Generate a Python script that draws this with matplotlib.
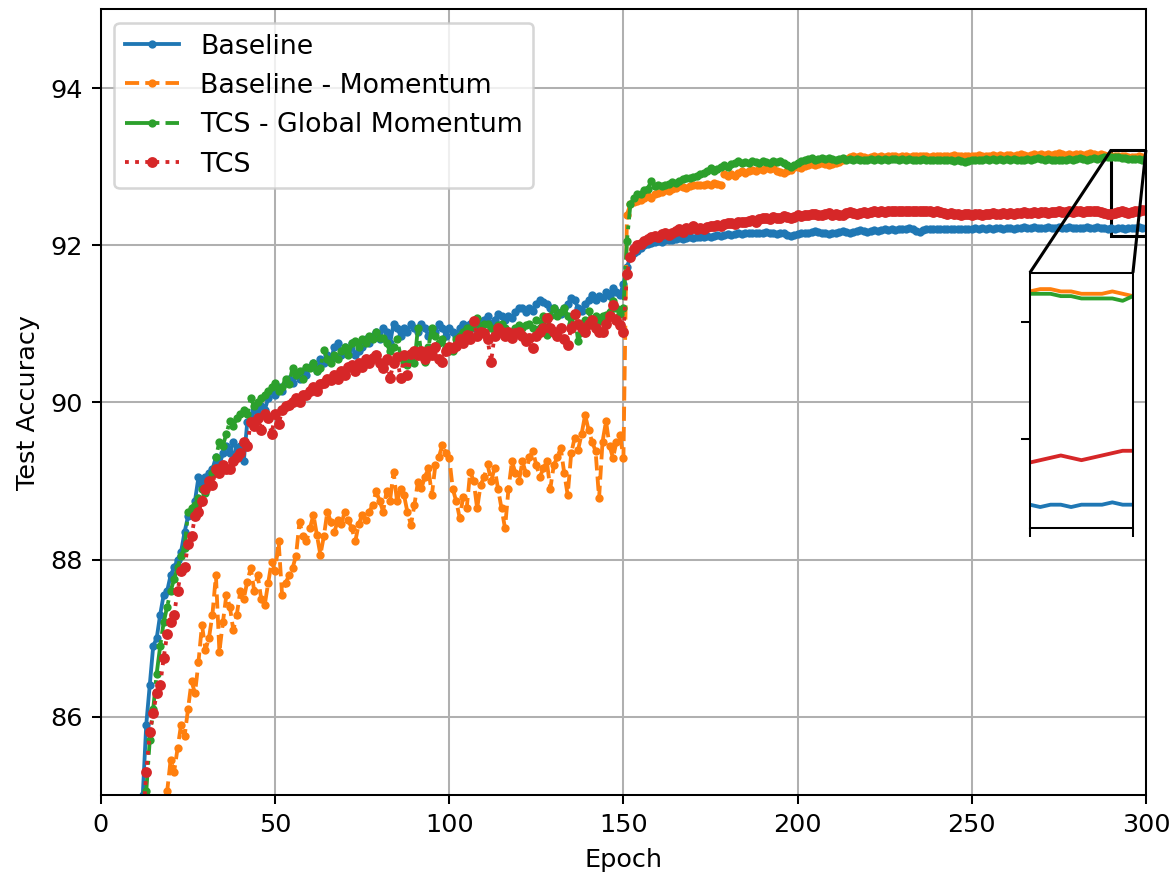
import numpy as np
import matplotlib
matplotlib.use("Agg")
import matplotlib.pyplot as plt
from mpl_toolkits.axes_grid1.inset_locator import mark_inset

# test accuracy per epoch (epochs 1..300)
baseline = [
    40.2, 55.6, 63.1, 68.4, 72.0, 75.3, 77.5, 79.4, 81.0, 82.4,
    83.8, 85.0, 85.9, 86.4, 86.9, 87.0, 87.3, 87.55, 87.6, 87.8,
    87.9, 88.0, 88.1, 88.35, 88.55, 88.6, 88.75, 89.05, 88.95, 89.05,
    89.1, 89.15, 89.3, 89.2, 89.35, 89.45, 89.35, 89.5, 89.4, 89.45,
    89.25, 89.75, 89.8, 89.9, 89.85, 89.95, 89.9, 90.05, 90.15, 90.1,
    90.2, 90.15, 90.25, 90.3, 90.25, 90.35, 90.3, 90.4, 90.35, 90.45,
    90.5, 90.4, 90.55, 90.5, 90.6, 90.55, 90.7, 90.75, 90.6, 90.7,
    90.65, 90.75, 90.6, 90.65, 90.7, 90.8, 90.75, 90.85, 90.9, 90.8,
    90.95, 90.9, 90.75, 91.0, 90.95, 90.85, 90.95, 90.9, 91.0, 90.95,
    90.9, 91.0, 90.95, 90.85, 90.9, 90.9, 91.0, 90.95, 90.85, 90.95,
    90.9, 90.85, 90.95, 91.0, 90.9, 91.0, 90.95, 91.05, 91.0, 91.05,
    91.1, 91.0, 91.05, 91.12, 91.1, 91.05, 91.1, 91.07, 91.15, 91.2,
    91.2, 91.15, 91.2, 91.16, 91.25, 91.3, 91.28, 91.25, 91.2, 91.2,
    91.15, 91.12, 91.2, 91.25, 91.33, 91.3, 91.2, 91.16, 91.25, 91.3,
    91.37, 91.3, 91.35, 91.33, 91.4, 91.35, 91.46, 91.4, 91.37, 91.5,
    91.72, 91.85, 91.9, 91.92, 91.97, 92.0, 92.02, 92.03, 92.04, 92.05,
    92.04, 92.06, 92.07, 92.06, 92.08, 92.09, 92.08, 92.09, 92.1, 92.09,
    92.1, 92.11, 92.1, 92.12, 92.11, 92.12, 92.13, 92.12, 92.13, 92.14,
    92.13, 92.14, 92.15, 92.14, 92.15, 92.16, 92.15, 92.16, 92.15, 92.16,
    92.17, 92.16, 92.15, 92.14, 92.16, 92.15, 92.13, 92.12, 92.13, 92.14,
    92.15, 92.16, 92.15, 92.17, 92.18, 92.17, 92.16, 92.15, 92.14, 92.15,
    92.16, 92.17, 92.18, 92.17, 92.16, 92.17, 92.18, 92.19, 92.18, 92.17,
    92.18, 92.19, 92.18, 92.19, 92.2, 92.19, 92.2, 92.19, 92.2, 92.21,
    92.2, 92.22, 92.21, 92.18, 92.17, 92.19, 92.2, 92.21, 92.2, 92.21,
    92.2, 92.21, 92.2, 92.21, 92.2, 92.21, 92.2, 92.21, 92.2, 92.21,
    92.22, 92.21, 92.22, 92.21, 92.22, 92.21, 92.22, 92.22, 92.21, 92.22,
    92.22, 92.21, 92.22, 92.22, 92.23, 92.22, 92.22, 92.23, 92.22, 92.22,
    92.22, 92.23, 92.22, 92.22, 92.23, 92.22, 92.22, 92.23, 92.22, 92.22,
    92.22, 92.22, 92.23, 92.22, 92.22, 92.23, 92.22, 92.22, 92.21, 92.22,
    92.21, 92.22, 92.22, 92.21, 92.22, 92.22, 92.22, 92.23, 92.22, 92.22,
]

baseline_momentum = [
    30.1, 42.5, 51.3, 57.8, 62.9, 67.0, 70.2, 72.9, 75.3, 77.2,
    78.8, 80.1, 81.3, 82.2, 83.0, 83.7, 84.3, 84.8, 85.05, 85.45,
    85.3, 85.6, 85.9, 85.75, 86.1, 86.45, 86.3, 86.7, 87.17, 86.85,
    87.0, 87.3, 87.8, 86.83, 87.2, 87.55, 87.4, 87.1, 87.3, 87.6,
    87.5, 87.72, 87.89, 87.6, 87.8, 87.5, 87.42, 87.7, 87.97, 87.85,
    88.23, 87.55, 87.7, 87.8, 87.89, 88.05, 88.48, 88.3, 88.23, 88.4,
    88.57, 88.31, 88.06, 88.3, 88.61, 88.48, 88.35, 88.5, 88.45, 88.61,
    88.5, 88.4, 88.23, 88.45, 88.57, 88.5, 88.6, 88.7, 88.87, 88.75,
    88.61, 88.87, 88.75, 89.12, 88.74, 88.9, 88.82, 88.6, 88.44, 88.7,
    88.99, 88.91, 89.05, 89.16, 88.82, 89.2, 89.3, 89.46, 89.35, 89.29,
    88.9, 88.74, 88.53, 88.8, 88.65, 89.12, 89.0, 88.65, 88.95, 89.05,
    89.21, 89.0, 89.16, 88.9, 88.65, 88.4, 88.9, 89.25, 89.1, 89.0,
    89.25, 89.1, 89.3, 89.38, 89.2, 89.05, 89.16, 89.25, 88.9, 89.2,
    89.3, 89.42, 89.1, 88.82, 89.35, 89.55, 89.4, 89.6, 89.84, 89.65,
    89.5, 89.38, 88.78, 89.5, 89.76, 89.45, 89.29, 89.5, 89.59, 89.29,
    92.39, 92.52, 92.55, 92.56, 92.58, 92.6, 92.62, 92.6, 92.65, 92.66,
    92.68, 92.7, 92.69, 92.72, 92.73, 92.75, 92.74, 92.73, 92.75, 92.76,
    92.77, 92.76, 92.77, 92.78, 92.77, 92.79, 92.78, 92.77, 92.9, 92.88,
    92.9, 92.88, 92.92, 92.94, 92.92, 92.94, 92.96, 92.95, 92.97, 92.96,
    92.98, 92.97, 92.98, 92.95, 92.93, 92.92, 92.94, 92.96, 92.99, 93.0,
    92.98, 93.01, 93.02, 93.03, 93.02, 93.03, 93.04, 93.03, 93.02, 93.03,
    93.04, 93.06, 93.08, 93.1, 93.12, 93.13, 93.12, 93.13, 93.12, 93.11,
    93.12, 93.13, 93.12, 93.13, 93.12, 93.13, 93.14, 93.13, 93.12, 93.13,
    93.13, 93.12, 93.13, 93.14, 93.13, 93.14, 93.13, 93.12, 93.13, 93.14,
    93.13, 93.14, 93.13, 93.14, 93.15, 93.14, 93.13, 93.14, 93.14, 93.13,
    93.14, 93.15, 93.14, 93.13, 93.14, 93.15, 93.14, 93.15, 93.14, 93.15,
    93.15, 93.14, 93.15, 93.16, 93.15, 93.14, 93.15, 93.16, 93.15, 93.16,
    93.15, 93.16, 93.15, 93.16, 93.17, 93.16, 93.15, 93.16, 93.15, 93.16,
    93.16, 93.15, 93.16, 93.17, 93.16, 93.15, 93.16, 93.15, 93.14, 93.13,
    93.14, 93.14, 93.13, 93.13, 93.12, 93.12, 93.12, 93.13, 93.12, 93.11,
]

tcs_global_momentum = [
    39.0, 54.1, 62.0, 67.5, 71.4, 74.6, 77.0, 79.2, 80.9, 82.3,
    83.5, 84.4, 85.05, 85.7, 86.1, 86.55, 86.9, 87.2, 87.4, 87.6,
    87.75, 87.9, 88.05, 88.15, 88.6, 88.65, 88.7, 88.78, 88.9, 88.85,
    88.95, 89.1, 89.3, 89.5, 89.45, 89.6, 89.76, 89.7, 89.8, 89.85,
    89.9, 89.85, 90.05, 89.95, 90.0, 90.05, 90.1, 90.15, 90.2, 90.25,
    90.15, 90.2, 90.3, 90.23, 90.44, 90.35, 90.4, 90.3, 90.45, 90.44,
    90.5, 90.4, 90.44, 90.67, 90.55, 90.5, 90.6, 90.55, 90.65, 90.7,
    90.6, 90.75, 90.78, 90.7, 90.8, 90.75, 90.85, 90.8, 90.9, 90.82,
    90.82, 90.75, 90.65, 90.7, 90.8, 90.6, 90.52, 90.48, 90.55, 90.5,
    90.95, 90.6, 90.52, 90.7, 90.95, 90.85, 90.75, 90.8, 90.7, 90.65,
    90.65, 90.8, 90.85, 90.9, 90.95, 90.95, 91.0, 91.07, 90.95, 91.0,
    91.0, 90.95, 90.9, 90.99, 91.0, 90.95, 90.9, 90.86, 90.95, 90.99,
    90.95, 90.99, 91.0, 90.95, 91.05, 90.95, 91.1, 90.86, 91.1, 91.2,
    91.1, 91.15, 91.2, 91.1, 91.0, 91.11, 90.78, 90.9, 91.05, 91.16,
    91.03, 91.1, 91.03, 91.1, 91.11, 91.15, 91.29, 91.2, 91.12, 91.2,
    92.05, 92.52, 92.6, 92.65, 92.65, 92.7, 92.72, 92.82, 92.75, 92.77,
    92.75, 92.77, 92.78, 92.8, 92.79, 92.82, 92.84, 92.86, 92.85, 92.87,
    92.88, 92.9, 92.92, 92.94, 92.98, 92.95, 92.97, 93.0, 93.02, 93.0,
    93.03, 93.05, 93.07, 93.05, 93.06, 93.05, 93.07, 93.06, 93.05, 93.07,
    93.06, 93.05, 93.07, 93.06, 93.07, 93.04, 93.02, 93.0, 93.02, 93.05,
    93.07, 93.08, 93.1, 93.11, 93.09, 93.1, 93.11, 93.1, 93.11, 93.1,
    93.09, 93.1, 93.11, 93.09, 93.1, 93.09, 93.1, 93.09, 93.08, 93.09,
    93.1, 93.09, 93.1, 93.09, 93.1, 93.09, 93.1, 93.1, 93.09, 93.1,
    93.09, 93.1, 93.09, 93.08, 93.09, 93.1, 93.09, 93.08, 93.09, 93.08,
    93.09, 93.08, 93.09, 93.08, 93.07, 93.08, 93.07, 93.06, 93.07, 93.08,
    93.09, 93.08, 93.09, 93.1, 93.09, 93.1, 93.09, 93.1, 93.09, 93.1,
    93.09, 93.1, 93.09, 93.08, 93.09, 93.1, 93.09, 93.1, 93.11, 93.1,
    93.09, 93.1, 93.09, 93.08, 93.09, 93.08, 93.09, 93.1, 93.09, 93.1,
    93.11, 93.1, 93.09, 93.1, 93.11, 93.1, 93.11, 93.12, 93.12, 93.12,
    93.12, 93.12, 93.11, 93.11, 93.1, 93.1, 93.1, 93.1, 93.09, 93.11,
]

tcs = [
    38.5, 52.0, 60.4, 66.2, 70.3, 73.6, 76.4, 78.6, 80.5, 82.2,
    83.6, 84.6, 85.3, 85.8, 86.05, 86.3, 86.4, 86.75, 87.05, 87.2,
    87.3, 87.6, 87.85, 87.9, 88.2, 88.3, 88.55, 88.6, 88.75, 88.9,
    89.0, 88.95, 89.15, 89.1, 89.2, 89.15, 89.15, 89.25, 89.3, 89.35,
    89.5, 89.45, 89.75, 89.7, 89.8, 89.65, 89.85, 89.8, 89.6, 89.85,
    89.72, 89.9, 89.95, 89.97, 90.0, 90.05, 90.0, 90.1, 90.1, 90.15,
    90.2, 90.15, 90.23, 90.25, 90.3, 90.28, 90.35, 90.3, 90.4, 90.35,
    90.45, 90.48, 90.4, 90.5, 90.45, 90.55, 90.5, 90.56, 90.6, 90.5,
    90.44, 90.55, 90.31, 90.5, 90.58, 90.31, 90.6, 90.35, 90.61, 90.65,
    90.6, 90.65, 90.55, 90.65, 90.6, 90.7, 90.55, 90.52, 90.65, 90.7,
    90.69, 90.72, 90.8, 90.75, 90.86, 90.8, 91.03, 90.85, 90.9, 90.88,
    90.8, 90.52, 90.85, 90.95, 90.9, 90.85, 90.9, 90.82, 90.88, 90.9,
    90.85, 90.78, 90.82, 90.69, 90.85, 90.9, 90.95, 91.07, 90.95, 90.9,
    90.85, 90.95, 90.8, 90.73, 90.95, 91.12, 91.0, 90.95, 90.9, 91.0,
    91.05, 90.95, 90.9, 90.9, 91.0, 91.1, 91.24, 91.05, 90.99, 90.9,
    91.63, 91.85, 91.95, 92.0, 92.01, 92.05, 92.08, 92.1, 92.12, 92.1,
    92.14, 92.15, 92.13, 92.16, 92.18, 92.2, 92.17, 92.22, 92.2, 92.24,
    92.2, 92.22, 92.2, 92.23, 92.25, 92.24, 92.26, 92.25, 92.27, 92.28,
    92.28, 92.27, 92.29, 92.3, 92.29, 92.31, 92.32, 92.3, 92.33, 92.34,
    92.35, 92.33, 92.36, 92.35, 92.35, 92.37, 92.36, 92.35, 92.36, 92.38,
    92.37, 92.39, 92.38, 92.4, 92.4, 92.39, 92.38, 92.4, 92.41, 92.39,
    92.4, 92.38, 92.39, 92.41, 92.42, 92.41, 92.4, 92.41, 92.42, 92.41,
    92.42, 92.43, 92.42, 92.43, 92.42, 92.43, 92.44, 92.43, 92.43, 92.44,
    92.43, 92.44, 92.43, 92.43, 92.44, 92.43, 92.44, 92.43, 92.42, 92.43,
    92.42, 92.41, 92.4, 92.41, 92.4, 92.4, 92.39, 92.4, 92.4, 92.39,
    92.4, 92.4, 92.39, 92.4, 92.4, 92.41, 92.4, 92.4, 92.41, 92.4,
    92.41, 92.4, 92.41, 92.41, 92.42, 92.41, 92.41, 92.42, 92.41, 92.42,
    92.42, 92.41, 92.42, 92.42, 92.43, 92.42, 92.42, 92.43, 92.42, 92.43,
    92.43, 92.42, 92.43, 92.44, 92.43, 92.43, 92.42, 92.41, 92.4, 92.4,
    92.41, 92.42, 92.43, 92.42, 92.41, 92.42, 92.43, 92.44, 92.45, 92.45,
]

series = [
    ("Baseline", baseline, "-", "#1f77b4", 4.5),
    ("Baseline - Momentum", baseline_momentum, "--", "#ff7f0e", 4.5),
    ("TCS - Global Momentum", tcs_global_momentum, "-.", "#2ca02c", 4.5),
    ("TCS", tcs, ":", "#d62728", 6.5),
]

fig, ax = plt.subplots(figsize=(6.4, 4.771), dpi=183.45)
fig.subplots_adjust(left=0.086, right=0.976, bottom=0.091, top=0.989)

for label, vals, ls, color, ms in series:
    epochs = np.arange(1, len(vals) + 1)
    ax.plot(epochs, vals, linestyle=ls, marker=".", markersize=ms,
            color=color, linewidth=1.5, label=label)

ax.set_xlim(0, 300)
ax.set_ylim(85, 95)
ax.set_xlabel("Epoch")
ax.set_ylabel("Test Accuracy")
ax.grid(True)
ax.legend(loc="upper left", fontsize=10.5)

# zoomed view of the last ten epochs
axins = ax.inset_axes([0.889, 0.340, 0.0986, 0.325])
for label, vals, ls, color, ms in series:
    epochs = np.arange(1, len(vals) + 1)
    axins.plot(epochs, vals, color=color, linewidth=1.5)
axins.set_xlim(290, 300)
axins.set_ylim(92.12, 93.21)
axins.set_xticks([290, 300])
axins.set_yticks([92.5, 93.0])
axins.set_xticklabels([])
axins.set_yticklabels([])
mark_inset(ax, axins, loc1=2, loc2=1, fc="none", ec="black", lw=1.2)

fig.savefig("out.png", dpi=183.45)
